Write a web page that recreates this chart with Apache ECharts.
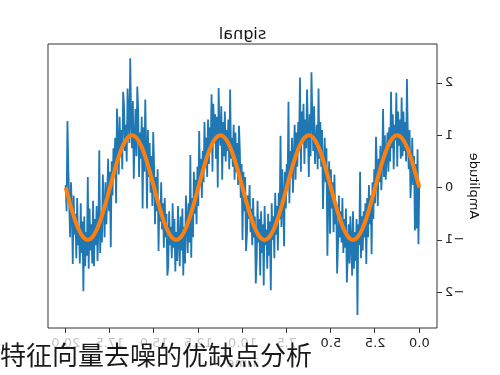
<!DOCTYPE html>
<html><head><meta charset="utf-8">
<script src="https://cdn.jsdelivr.net/npm/echarts@6/dist/echarts.min.js"></script>
<style>
html,body{margin:0;padding:0;background:#fff;}
#wrap{position:relative;width:500px;height:375px;overflow:hidden;background:#fff;}
#chart{position:absolute;left:0;top:0;width:500px;height:375px;transform:scaleX(-1);}
#cap{position:absolute;left:0;top:0;width:500px;height:375px;pointer-events:none;}
</style></head><body>
<div id="wrap"><div id="chart"></div><div id="cap"></div></div>
<script>
// ---- data ----
const titleText = 'signal';
const xName = 'Time';
const yName = 'Amplitude';
const captionText = '特征向量去噪的优缺点分析';
const xTicks = [0, 2.5, 5, 7.5, 10, 12.5, 15, 17.5, 20];
const yTicks = [-2, -1, 0, 1, 2];
const noisyStep = 0.05;   // sampling step of the noisy signal (Time units)
const cleanStep = 0.25;   // sampling step of the clean signal
const noisySignal = [
0.10,-1.08,0.73,-0.78,0.45,-0.82,0.60,0.05,0.95,0.20,
-0.20,1.10,0.35,0.95,2.07,0.50,1.25,0.70,1.45,0.60,
1.72,0.55,1.30,0.80,1.45,0.40,1.81,0.90,1.20,0.35,
1.40,0.75,1.83,0.50,1.15,0.30,1.05,0.60,0.15,1.00,
0.20,1.50,0.45,-0.05,0.80,0.10,0.55,-0.35,0.40,0.97,
-0.30,0.35,-0.60,0.10,-1.27,-0.15,-0.70,0.05,-0.95,-0.20,
-1.46,-0.30,-0.95,-0.45,-1.20,-0.55,-1.35,0.30,-1.10,-0.70,
-2.43,-0.60,-1.40,-0.85,-1.55,-0.45,-1.68,-1.05,-0.55,-1.45,
-0.70,-1.30,-1.81,-0.40,-1.15,-0.60,-1.25,-0.20,-1.05,-0.45,
-0.95,-0.15,-1.10,-1.64,-0.30,-0.70,0.25,-0.85,0.10,-0.40,
0.35,-0.88,0.50,-0.20,-1.30,0.75,0.10,0.95,0.30,-0.41,
1.10,0.40,1.25,0.55,1.89,0.35,1.20,0.85,0.45,1.55,
0.70,1.35,2.20,0.60,1.40,0.20,1.10,1.87,0.75,1.30,
0.45,1.60,0.95,1.45,0.30,2.10,0.80,1.25,0.40,1.05,
0.15,1.20,0.55,-0.10,0.95,0.25,0.70,-0.30,1.64,0.05,
0.45,-0.40,0.30,-1.12,-0.20,0.35,-0.75,0.99,-0.60,-0.10,
-1.20,-0.35,-0.90,-0.10,-1.35,-0.55,-1.00,-0.30,-1.96,-0.65,
-1.30,-0.50,-1.55,-0.80,-1.10,-0.35,-1.87,-0.70,-1.25,-0.45,
-1.68,-0.60,-1.05,-0.25,-1.40,-1.83,-0.55,-0.95,-0.20,-1.10,
-0.40,-0.85,0.05,-0.60,-0.15,-0.90,-1.21,0.20,-0.45,0.30,
-1.00,0.45,-0.20,0.70,1.18,0.05,0.85,0.30,1.05,0.15,
1.20,0.40,0.95,0.55,1.87,0.35,1.30,0.70,1.10,0.50,
1.45,0.60,1.25,0.15,1.55,0.80,1.05,1.90,0.00,1.35,
0.55,1.40,0.90,1.60,0.30,1.78,0.75,1.15,0.45,1.30,
0.20,0.95,0.50,1.25,0.10,0.70,-0.20,0.55,0.05,1.08,
-0.35,0.40,-0.70,0.15,-0.50,0.30,-0.95,-0.20,-1.34,0.62,
-1.05,-0.30,-1.25,-0.60,-0.15,-1.45,-0.75,-1.68,-0.40,-1.20,
-0.55,-1.50,-1.00,-0.35,-1.40,-0.85,-1.60,-0.60,-1.15,-0.30,
-1.35,-0.75,-1.10,-0.45,-1.50,-1.68,-0.50,-0.95,-0.20,-1.15,
-0.30,-0.80,0.10,-0.65,-0.25,-1.21,0.35,-0.45,0.20,-0.70,
0.40,1.06,-0.35,0.60,-0.10,0.85,0.20,1.10,-0.40,0.75,
1.68,0.30,1.15,-0.40,1.35,0.55,1.05,0.20,1.45,1.93,
0.60,1.50,0.90,0.17,1.65,0.75,1.30,2.47,0.85,1.40,
1.89,0.50,1.20,0.70,1.55,1.83,0.35,1.10,0.60,1.35,
0.25,0.85,1.51,-0.30,0.95,0.40,0.75,-0.15,0.50,-1.14,
0.30,-0.45,0.55,-0.20,-0.70,0.10,-0.95,-0.35,0.25,-1.05,
-0.50,-1.25,0.71,-0.80,-1.40,-0.35,-1.10,-0.60,-1.50,-0.25,
-1.45,-0.70,-1.20,-0.40,-1.55,0.20,-1.30,-0.85,-1.50,-0.55,
-1.98,-0.65,-1.25,-0.30,-1.45,-0.80,-1.10,-0.20,-1.35,-0.50,
-0.90,-0.15,-1.46,-0.40,0.10,-0.95,-0.30,0.35,1.27,-0.45,
0.05
];
const cleanSignal = [
0,0.31,0.59,0.81,0.95,1,0.95,0.81,0.59,0.31,0,-0.31,-0.59,-0.81,-0.95,-1,-0.95,-0.81,-0.59,-0.31,
0,0.31,0.59,0.81,0.95,1,0.95,0.81,0.59,0.31,0,-0.31,-0.59,-0.81,-0.95,-1,-0.95,-0.81,-0.59,-0.31,
0,0.31,0.59,0.81,0.95,1,0.95,0.81,0.59,0.31,0,-0.31,-0.59,-0.81,-0.95,-1,-0.95,-0.81,-0.59,-0.31,
0,0.31,0.59,0.81,0.95,1,0.95,0.81,0.59,0.31,0,-0.31,-0.59,-0.81,-0.95,-1,-0.95,-0.81,-0.59,-0.31,
0
];

const FONT = '"DejaVu Sans", sans-serif';
const noisyData = noisySignal.map((v, i) => [+(i * noisyStep).toFixed(4), v]);
const cleanData = cleanSignal.map((v, i) => [+(i * cleanStep).toFixed(4), v]);

const chart = echarts.init(document.getElementById('chart'), null, {renderer: 'canvas'});
chart.setOption({
  animation: false,
  backgroundColor: '#fff',
  title: {
    text: titleText, left: 257.5, top: 27, textAlign: 'center', padding: 0,
    textStyle: {fontFamily: FONT, fontSize: 16, fontWeight: 'normal', color: '#111'}
  },
  grid: {left: 63, right: 48, top: 44, bottom: 44, show: true, borderColor: '#333', borderWidth: 1, backgroundColor: 'transparent'},
  xAxis: {
    type: 'value', min: -1, max: 21,
    name: xName, nameLocation: 'middle', nameGap: 29, nameMoveOverlap: false,
    nameTextStyle: {fontFamily: FONT, fontSize: 13, color: '#111'},
    axisLine: {show: false, onZero: false}, splitLine: {show: false},
    axisTick: {show: true, length: 5, customValues: xTicks, lineStyle: {color: '#333', width: 1}},
    axisLabel: {customValues: xTicks, formatter: v => v.toFixed(1), margin: 9,
      fontFamily: FONT, fontSize: 13, color: '#222'}
  },
  yAxis: {
    type: 'value', min: -2.68, max: 2.74,
    name: yName, nameLocation: 'middle', nameRotate: 90, nameGap: 30, nameMoveOverlap: false,
    nameTextStyle: {fontFamily: FONT, fontSize: 13, color: '#111'},
    axisLine: {show: false, onZero: false}, splitLine: {show: false},
    axisTick: {show: true, length: 5, customValues: yTicks, lineStyle: {color: '#333', width: 1}},
    axisLabel: {customValues: yTicks, formatter: v => (v < 0 ? '\u2212' + Math.abs(v) : String(v)), margin: 8,
      fontFamily: FONT, fontSize: 13, color: '#222'}
  },
  series: [
    {type: 'line', data: noisyData, showSymbol: false, symbol: 'none', sampling: null,
      lineStyle: {color: '#1f77b4', width: 1.8}, z: 2},
    {type: 'line', data: cleanData, showSymbol: false, symbol: 'none', smooth: 0.3,
      lineStyle: {color: '#ff7f0e', width: 4}, z: 3}
  ]
});

const cap = echarts.init(document.getElementById('cap'), null, {renderer: 'canvas'});
cap.setOption({
  animation: false,
  graphic: [
    {type: 'rect', shape: {x: 0, y: 337, width: 318, height: 38}, style: {fill: 'rgba(255,255,255,0.72)'}},
    {type: 'text', style: {text: captionText, x: 0, y: 355, verticalAlign: 'middle',
      font: '26px "Noto Sans CJK SC", sans-serif', fill: '#1a1a1a'}}
  ]
});
</script>
</body></html>
